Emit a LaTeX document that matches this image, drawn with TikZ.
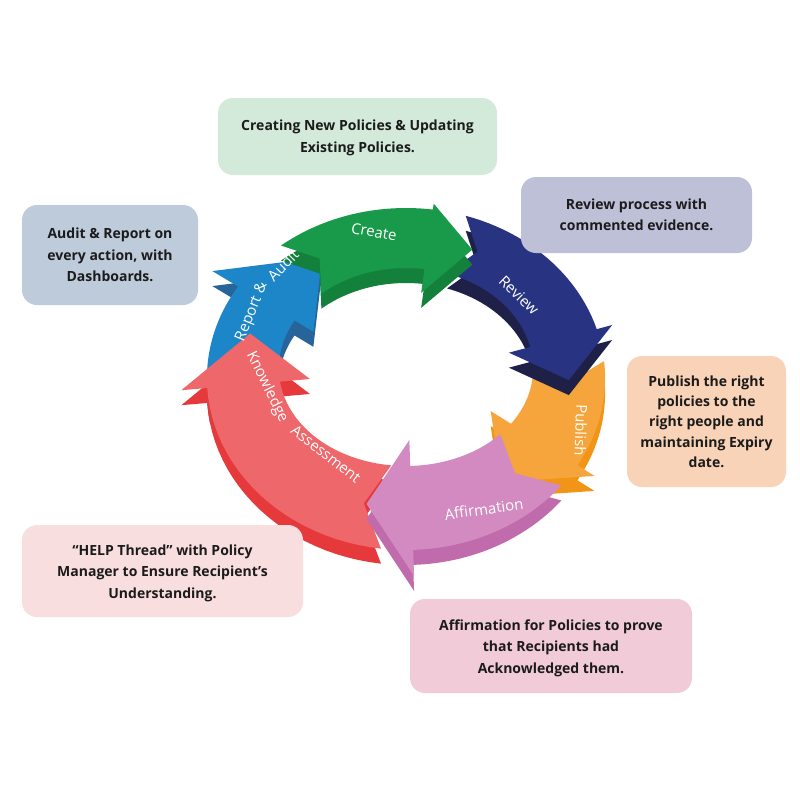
\documentclass[tikz,border=0pt]{standalone}
\usepackage{fontspec}
\setmainfont{Open Sans}

\definecolor{cGreen}{HTML}{19994A}
\definecolor{cGreenD}{HTML}{13803C}
\definecolor{cNavy}{HTML}{283382}
\definecolor{cNavyD}{HTML}{1E2048}
\definecolor{cOrange}{HTML}{F5A53C}
\definecolor{cOrangeD}{HTML}{F29415}
\definecolor{cPurple}{HTML}{D28AC0}
\definecolor{cPurpleD}{HTML}{BF6BAC}
\definecolor{cRed}{HTML}{EE676A}
\definecolor{cRedD}{HTML}{E5393C}
\definecolor{cBlue}{HTML}{1D86C8}
\definecolor{cBlueD}{HTML}{26649A}

\definecolor{bMint}{HTML}{D3EADB}
\definecolor{bSteel}{HTML}{BECBDB}
\definecolor{bLav}{HTML}{BEC0D8}
\definecolor{bPeach}{HTML}{F9D3B8}
\definecolor{bRose}{HTML}{F8DEDF}
\definecolor{bPink}{HTML}{F2CBD8}
\definecolor{txtDark}{HTML}{1B1B1B}

\tikzset{
  infobox/.style={rounded corners=15pt, inner sep=0pt, align=center,
    font=\bfseries\fontsize{14}{21.5}\selectfont, text=txtDark},
  ringlabel/.style={text=white, font=\fontsize{15}{15}\selectfont, inner sep=0pt},
}

% #1 tail angle, #2 tip angle, #3 head length, #4 colour, #5 dark colour,
% #6 outer barb, #7 inner barb
\newcommand{\ringarrow}[7]{%
  \pgfmathsetmacro{\rnk}{#2+#3}%
  \pgfmathsetmacro{\rnt}{#1-8}%
  \foreach \rsh/\rcol in {15/#5,0/#4}{%
    \fill[\rcol, shift={(0,\rsh)}]
      plot[domain=#1:\rnk,samples=25] ({rgx(\x,rhw(\x))},{rgy(\x,rhw(\x))})
      -- ({rgx(\rnk,rhw(\rnk)+#6)},{rgy(\rnk,rhw(\rnk)+#6)})
      -- ({rgx(#2,0)},{rgy(#2,0)})
      -- ({rgx(\rnk,-rhw(\rnk)-#7)},{rgy(\rnk,-rhw(\rnk)-#7)})
      -- plot[domain=\rnk:#1,samples=25] ({rgx(\x,-rhw(\x))},{rgy(\x,-rhw(\x))})
      -- ({rgx(\rnt,0)},{rgy(\rnt,0)}) -- cycle;
  }%
}

\begin{document}
\begin{tikzpicture}[x=1pt,y=-1pt,
  declare function={rgx(\t,\s)=406+(163+\s)*cos(\t);
                    rgy(\t,\s)=373-(135+\s)*sin(\t);
                    rhw(\t)=36-6*sin(\t);}]
\fill[white] (0,0) rectangle (800,800);
\useasboundingbox (0,0) rectangle (800,800);

% cycle arrows
\ringarrow{4}{-54}{22}{cOrange}{cOrangeD}{20}{24}
\ringarrow{72}{-3}{18}{cNavy}{cNavyD}{16}{22}
\ringarrow{192}{121}{28}{cBlue}{cBlueD}{30}{22}
\ringarrow{130}{66}{16}{cGreen}{cGreenD}{6}{24}
\ringarrow{263}{163}{22}{cRed}{cRedD}{26}{30}
\ringarrow{320}{256}{16}{cPurple}{cPurpleD}{26}{26}

% labels on arrows
\node[ringlabel, rotate=-10] (lcreate) at (374,232) {Create};
\node[ringlabel, rotate=-44] (lreview) at (519,295) {Review};
\node[ringlabel, rotate=-92] (lpublish) at (581,430) {Publish};
\node[ringlabel, rotate=8] (laffirm) at (484,509) {Affirmation};
\node[ringlabel, rotate=-64] (lknow) at (267,387) {Knowledge};
\node[ringlabel, rotate=-38] (lassess) at (326,454) {Assessment};
\node[ringlabel, rotate=68] (lreport) at (252,312) {Report \&};
\node[ringlabel, rotate=46] (laudit) at (283,265) {Audit};

% information boxes
\node[infobox, fill=bMint, minimum width=279, minimum height=77] (bcreate) at (357.5,136.5)
  {\rule{0pt}{13pt}Creating New Policies \& Updating\\Existing Policies.};
\node[infobox, fill=bSteel, minimum width=176, minimum height=100] (baudit) at (110,255)
  {Audit \& Report on\\every action, with\\Dashboards.};
\node[infobox, fill=bLav, minimum width=231, minimum height=76] (breview) at (636.5,215)
  {Review process with\\commented evidence.};
\node[infobox, fill=bPeach, minimum width=159, minimum height=131,
  font=\bfseries\fontsize{14}{20.3}\selectfont] (bpublish) at (706.5,421.5)
  {Publish the right\\policies to the\\right people and\\maintaining Expiry\\date.};
\node[infobox, fill=bRose, minimum width=281, minimum height=92] (bhelp) at (162.5,571)
  {\rule{0pt}{15pt}“HELP Thread” with Policy\\Manager to Ensure Recipient’s\\Understanding.};
\node[infobox, fill=bPink, minimum width=282, minimum height=94] (baffirm) at (551,646)
  {\rule{0pt}{15pt}Affirmation for Policies to prove\\that Recipients had\\Acknowledged them.};
\end{tikzpicture}
\end{document}
